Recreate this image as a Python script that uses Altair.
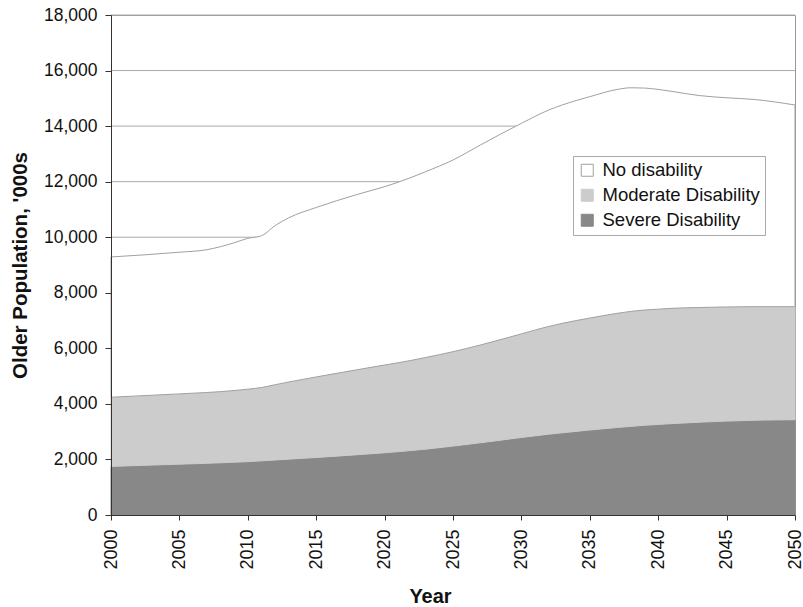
import altair as alt
import pandas as pd

# ---- data (thousands of people) ----
years = [2000, 2005, 2007, 2009, 2010, 2011, 2012, 2013, 2015, 2018,
         2020, 2021, 2023, 2025, 2027, 2030, 2032, 2034, 2035, 2037,
         2038, 2039, 2040, 2041, 2043, 2045, 2047, 2050]
# cumulative top of "Severe Disability"
severe_top = [1750, 1830, 1860, 1900, 1920, 1950, 1980, 2010, 2070, 2170,
              2240, 2280, 2370, 2480, 2600, 2790, 2910, 3010, 3060, 3150,
              3190, 3230, 3260, 3290, 3340, 3380, 3410, 3430]
# cumulative top of "Moderate Disability"
moderate_top = [4240, 4360, 4410, 4480, 4530, 4590, 4690, 4790, 4970, 5230,
                5400, 5480, 5670, 5880, 6120, 6520, 6790, 7000, 7090, 7260,
                7330, 7380, 7410, 7440, 7470, 7490, 7500, 7500]
# cumulative total (top of "No disability")
total_top = [9290, 9460, 9550, 9800, 9960, 10050, 10420, 10700, 11070, 11540,
             11820, 11980, 12360, 12780, 13320, 14100, 14580, 14920, 15060, 15320,
             15380, 15370, 15320, 15250, 15100, 15020, 14960, 14760]

categories = ["No disability", "Moderate Disability", "Severe Disability"]
fill_colors = ["#ffffff", "#cccccc", "#888888"]
stroke_colors = ["#a0a0a0", "#cccccc", "#888888"]
y_ticks = [0, 2000, 4000, 6000, 8000, 10000, 12000, 14000, 16000, 18000]
x_ticks = [2000, 2005, 2010, 2015, 2020, 2025, 2030, 2035, 2040, 2045, 2050]

rows = []
for i, yr in enumerate(years):
    rows.append({"year": yr, "category": "Severe Disability", "lo": 0, "hi": severe_top[i]})
    rows.append({"year": yr, "category": "Moderate Disability", "lo": severe_top[i], "hi": moderate_top[i]})
    rows.append({"year": yr, "category": "No disability", "lo": moderate_top[i], "hi": total_top[i]})
df = pd.DataFrame(rows)
grid_df = pd.DataFrame({"v": y_ticks})

FONT = "Liberation Sans"

x_scale = alt.Scale(domain=[2000, 2050], nice=False, zero=False)
y_scale = alt.Scale(domain=[0, 18000], nice=False)
fill_scale = alt.Scale(domain=categories, range=fill_colors)
stroke_scale = alt.Scale(domain=categories, range=stroke_colors)

x_axis = alt.Axis(
    values=x_ticks, format="d", labelAngle=270, labelFont=FONT, labelFontSize=18,
    labelColor="#111111", tickColor="#333333", tickSize=5, domainColor="#333333",
    labelPadding=9, grid=False, title="Year", titleFont=FONT, titleFontSize=20,
    titleFontWeight="bold", titleColor="#111111", titleX=319, titleY=87,
    titleBaseline="alphabetic", zindex=1,
)
y_axis = alt.Axis(
    values=y_ticks, format=",d", labelFont=FONT, labelFontSize=17.5,
    labelColor="#111111", tickColor="#333333", tickSize=6, domainColor="#333333",
    labelPadding=8, grid=False, title="Older Population, '000s", titleFont=FONT,
    titleFontSize=20.5, titleFontWeight="bold", titleColor="#111111",
    titleX=-91, titleY=250, titleAngle=270, titleAlign="center",
    titleBaseline="middle", zindex=1,
)
legend = alt.Legend(
    title=None, orient="none", legendX=462, legendY=141, labelFont=FONT,
    labelFontSize=18.5, labelColor="#111111", symbolType="square", symbolSize=144,
    symbolStrokeWidth=1, padding=5, rowPadding=6, labelOffset=6,
    strokeColor="#aaaaaa", fillColor="#ffffff",
)

grid = alt.Chart(grid_df).mark_rule(color="#aaaaaa", strokeWidth=1).encode(
    y=alt.Y("v:Q", scale=y_scale, axis=y_axis)
)


def layer_for(cat):
    return alt.Chart(df).transform_filter(
        alt.datum.category == cat
    ).mark_area(interpolate="monotone", strokeWidth=1, opacity=1).encode(
        x=alt.X("year:Q", scale=x_scale, axis=x_axis),
        y=alt.Y("hi:Q", scale=y_scale, axis=y_axis),
        y2="lo:Q",
        fill=alt.Fill("category:N", scale=fill_scale, legend=legend),
        stroke=alt.Stroke("category:N", scale=stroke_scale, legend=legend),
    )


chart = alt.layer(
    grid,
    layer_for("Severe Disability"),
    layer_for("Moderate Disability"),
    layer_for("No disability"),
).properties(
    width=684, height=500,
    padding={"left": 111, "top": 15, "right": 8, "bottom": 92},
    autosize=alt.AutoSizeParams(type="none"),
    background="#ffffff",
).configure_view(stroke="#999999", strokeWidth=1)

chart.save("out.html", embed_options={"renderer": "svg", "actions": False})
